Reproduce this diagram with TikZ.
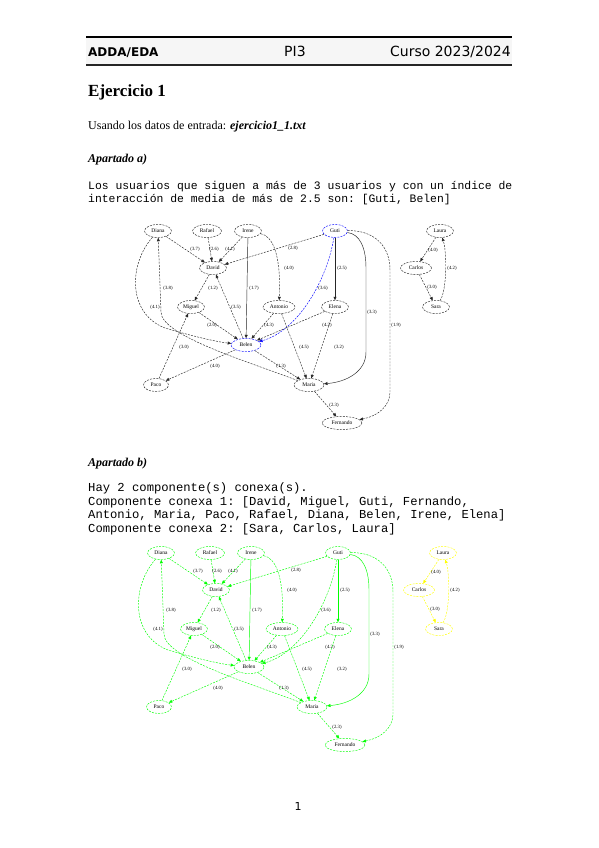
\documentclass[tikz,border=0pt]{standalone}
\usepackage{fontspec}
\setmainfont{Liberation Serif}
\setmonofont{Liberation Mono}
\newfontfamily\headfont{DejaVu Sans}
\usetikzlibrary{arrows.meta,shapes.geometric}

\definecolor{cgreen}{RGB}{0,255,0}
\definecolor{cyellow}{RGB}{255,255,0}

\tikzset{
  user/.style={ellipse, draw, dash pattern=on 2pt off 1.2pt, line width=.45pt,
    minimum width=27pt, minimum height=13pt, inner sep=0pt,
    font=\fontsize{5.5}{6}\selectfont},
  link/.style={dash pattern=on 2pt off 1.2pt, line width=.45pt,
    -{Triangle[length=3.5pt,width=3pt]}},
  solidlink/.style={link, solid},
  wlabel/.style={font=\fontsize{4.8}{5}\selectfont, inner sep=0pt},
  txt/.style={anchor=base west, inner sep=0pt},
}

% #1 first component, #2 chosen users, #3 second component
\newcommand{\usersgraph}[3]{%
  % users
  \node[user, draw=#1] (Diana) at (158,231) {Diana};
  \node[user, draw=#1, minimum width=29pt] (Rafael) at (207,231) {Rafael};
  \node[user, draw=#1] (Irene) at (248,231) {Irene};
  \node[user, draw=#2, minimum width=25pt] (Guti) at (335,231) {Guti};
  \node[user, draw=#1] (David) at (213,268) {David};
  \node[user, draw=#1] (Miguel) at (191,307) {Miguel};
  \node[user, draw=#1, minimum width=32pt] (Antonio) at (279,307) {Antonio};
  \node[user, draw=#1] (Elena) at (335,307) {Elena};
  \node[user, draw=#2, minimum width=30pt] (Belen) at (246,345) {Belen};
  \node[user, draw=#1, minimum width=25pt] (Paco) at (156,385) {Paco};
  \node[user, draw=#1, minimum width=30pt] (Maria) at (309,385) {Maria};
  \node[user, draw=#1, minimum width=40pt] (Fernando) at (342,423) {Fernando};
  \node[user, draw=#3] (Laura) at (440,231) {Laura};
  \node[user, draw=#3, minimum width=31pt] (Carlos) at (416,268) {Carlos};
  \node[user, draw=#3] (Sara) at (436,307) {Sara};
  % follows, with interaction index
  \draw[link, draw=#1] (Diana) -- (David) node[wlabel] at (195,249) {(3.7)};
  \draw[link, draw=#1] (Rafael) -- (David) node[wlabel] at (214,249) {(2.6)};
  \draw[link, draw=#1] (Irene) -- (David) node[wlabel] at (230,249) {(4.1)};
  \draw[link, draw=#1] (Guti) -- (David) node[wlabel] at (293,248) {(2.8)};
  \draw[link, draw=#1] (Irene) .. controls (272,236) and (281,252) .. (Antonio) node[wlabel] at (289,268) {(4.0)};
  \draw[solidlink, draw=#1] (Guti) -- (Elena) node[wlabel] at (342,268) {(2.5)};
  \draw[link, draw=#1] (David) -- (Miguel) node[wlabel] at (213,288) {(1.2)};
  \draw[solidlink, draw=#1] (Irene) -- (Belen) node[wlabel] at (254,288) {(1.7)};
  \draw[link, draw=#2] (Guti) .. controls (326,285) and (295,332) .. (Belen) node[wlabel] at (323,288) {(3.6)};
  \draw[link, draw=#1] (Diana) .. controls (128,265) and (128,314) .. (165,328) .. controls (195,337) and (218,342) .. (Belen) node[wlabel] at (155,307) {(4.1)};
  \draw[link, draw=#1] (Maria) .. controls (250,362) and (161,336) .. (161,312) -- (Diana) node[wlabel] at (168,288) {(3.8)};
  \draw[link, draw=#1] (Belen) -- (David) node[wlabel] at (236,307) {(3.5)};
  \draw[solidlink, draw=#1] (Guti) .. controls (360,234) and (366,248) .. (366,268) -- (366,352) .. controls (366,372) and (346,382) .. (Maria) node[wlabel] at (372,312) {(3.3)};
  \draw[link, draw=#1] (Guti) .. controls (372,230) and (390,244) .. (390,270) -- (390,392) .. controls (390,406) and (378,416) .. (Fernando) node[wlabel] at (396,325) {(1.9)};
  \draw[link, draw=#1] (Miguel) -- (Belen) node[wlabel] at (212,325) {(2.0)};
  \draw[link, draw=#1] (Antonio) -- (Belen) node[wlabel] at (269,325) {(4.3)};
  \draw[link, draw=#1] (Elena) -- (Belen) node[wlabel] at (327,325) {(4.2)};
  \draw[link, draw=#1] (Paco) -- (Miguel) node[wlabel] at (184,347) {(3.0)};
  \draw[link, draw=#1] (Belen) -- (Paco) node[wlabel] at (215,366) {(4.0)};
  \draw[link, draw=#1] (Belen) -- (Maria) node[wlabel] at (281,366) {(1.3)};
  \draw[link, draw=#1] (Antonio) -- (Maria) node[wlabel] at (304,347) {(4.5)};
  \draw[link, draw=#1] (Elena) -- (Maria) node[wlabel] at (339,347) {(3.2)};
  \draw[link, draw=#1] (Maria) -- (Fernando) node[wlabel] at (334,405) {(2.3)};
  \draw[link, draw=#3] (Laura) -- (Carlos) node[wlabel] at (433,250) {(4.0)};
  \draw[link, draw=#3] (Carlos) -- (Sara) node[wlabel] at (432,287) {(3.0)};
  \draw[link, draw=#3] (Sara) .. controls (447,290) and (447,252) .. (Laura) node[wlabel] at (452,268) {(4.2)};
}

\begin{document}
\begin{tikzpicture}[x=1pt, y=-1pt]
\useasboundingbox (0,0) rectangle (599,848);
\fill[white] (0,0) rectangle (599,848);

% page header
\fill[gray!7] (86,37) rectangle (512,65);
\draw[line width=2pt] (86,37) -- (512,37);
\draw[line width=1.6pt, black!85] (86,65) -- (512,65);
\node[txt, font=\headfont\bfseries\fontsize{12}{14}\selectfont] (course) at (88,57) {ADDA/EDA};
\node[txt, font=\headfont\fontsize{14}{16}\selectfont] (unit) at (284,57) {PI3};
\node[txt, anchor=base east, font=\headfont\fontsize{14}{16}\selectfont] (year) at (511,57) {Curso 2023/2024};

% text
\node[txt, font=\bfseries\fontsize{17}{20}\selectfont] (title) at (88,97) {Ejercicio 1};
\node[txt, font=\fontsize{12}{14}\selectfont] (input) at (88,129) {Usando los datos de entrada: \textbf{\textit{ejercicio1\_1.txt}}};
\node[txt, font=\bfseries\itshape\fontsize{12}{14}\selectfont] (parta) at (88,162) {Apartado a)};
\node[txt, font=\ttfamily\fontsize{11.4}{13}\selectfont] (resa1) at (88,189) {Los usuarios que siguen a más de 3 usuarios y con un índice de};
\node[txt, font=\ttfamily\fontsize{11.4}{13}\selectfont] (resa2) at (88,202) {interacción de media de más de 2.5 son: [Guti, Belen]};
\node[txt, font=\bfseries\itshape\fontsize{12}{14}\selectfont] (partb) at (88,466) {Apartado b)};
\node[txt, font=\ttfamily\fontsize{12.2}{14}\selectfont] (resb1) at (88,491) {Hay 2 componente(s) conexa(s).};
\node[txt, font=\ttfamily\fontsize{12.2}{14}\selectfont] (resb2) at (88,505) {Componente conexa 1: [David, Miguel, Guti, Fernando,};
\node[txt, font=\ttfamily\fontsize{12.2}{14}\selectfont] (resb3) at (88,518) {Antonio, Maria, Paco, Rafael, Diana, Belen, Irene, Elena]};
\node[txt, font=\ttfamily\fontsize{12.2}{14}\selectfont] (resb4) at (88,532) {Componente conexa 2: [Sara, Carlos, Laura]};
\node[anchor=base, inner sep=0pt, font=\headfont\fontsize{11}{12}\selectfont] (page) at (298,810) {1};

% graph of apartado a)
\begin{scope}[name prefix=a-]
\usersgraph{black!85}{blue}{black!85}
\end{scope}

% graph of apartado b)
\begin{scope}[name prefix=b-, shift={(3,322)}]
\usersgraph{cgreen}{cgreen}{cyellow}
\end{scope}
\end{tikzpicture}
\end{document}
